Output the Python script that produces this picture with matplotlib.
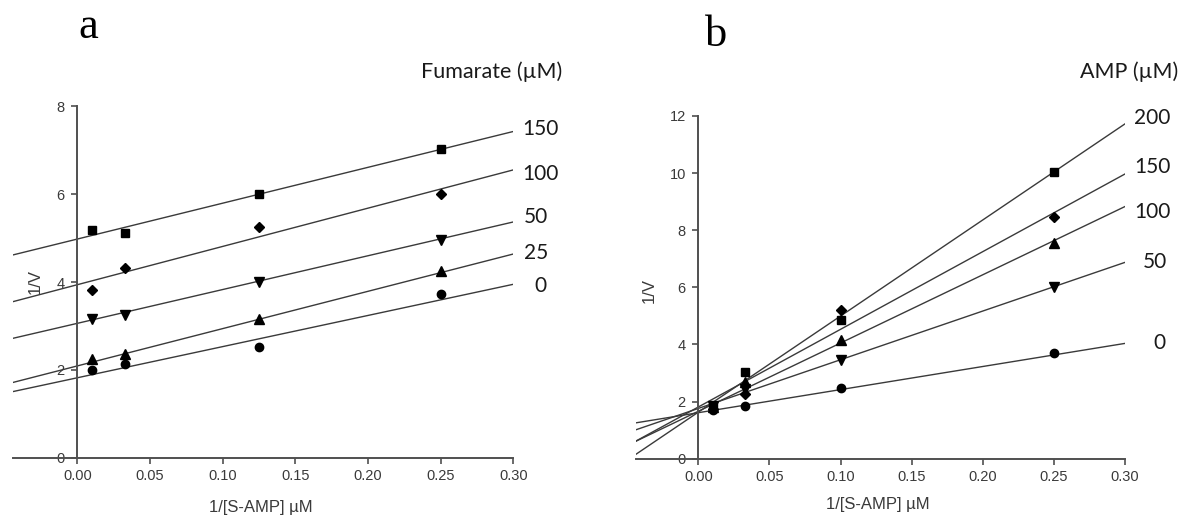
import numpy as np
import matplotlib.pyplot as plt

plt.rcParams['font.family'] = ['Liberation Sans', 'DejaVu Sans']

# x values (1/[S-AMP])
x_fum = [0.01, 0.033, 0.125, 0.25]
x_amp = [0.01, 0.033, 0.10, 0.25]

# panel a: 1/V at each fumarate concentration (uM)
fum_levels = ['0', '25', '50', '100', '150']
fum_0 = [1.99, 2.13, 2.52, 3.72]
fum_25 = [2.24, 2.37, 3.15, 4.25]
fum_50 = [3.15, 3.25, 4.00, 4.95]
fum_100 = [3.83, 4.31, 5.25, 6.00]
fum_150 = [5.18, 5.12, 6.00, 7.04]
# fitted lines (slope, intercept)
fum_slope = [7.1, 8.5, 7.7, 8.72, 8.17]
fum_icpt = [1.82, 2.09, 3.06, 3.94, 4.98]

# panel b: 1/V at each AMP concentration (uM)
amp_levels = ['0', '50', '100', '150', '200']
amp_0 = [1.71, 1.86, 2.48, 3.69]
amp_50 = [1.86, 2.45, 3.44, 6.02]
amp_100 = [1.80, 2.68, 4.14, 7.54]
amp_150 = [1.75, 2.27, 5.21, 8.45]
amp_200 = [1.85, 3.03, 4.84, 10.05]
amp_slope = [8.09, 17.05, 23.9, 27.2, 33.65]
amp_icpt = [1.61, 1.76, 1.66, 1.81, 1.63]

fum_markers = ['o', '^', 'v', 'D', 's']
amp_markers = ['o', 'v', '^', 'D', 's']
msize = {'o': 6, '^': 6.5, 'v': 6.5, 'D': 5.5, 's': 6}
XMIN, XMAX = -0.044, 0.30


def draw_panel(ax, xs, series, markers, slopes, icpts, ymax, ystep):
    xl = np.array([XMIN, XMAX])
    for ys, m, k, b in zip(series, markers, slopes, icpts):
        ax.plot(xl, k * xl + b, color='#3a3a3a', lw=1.0, zorder=2)
        ax.plot(xs, ys, linestyle='none', marker=m, ms=msize[m],
                color='black', zorder=3, clip_on=False)
    ax.set_xlim(XMIN, XMAX)
    ax.set_ylim(0, ymax)
    ax.spines['top'].set_visible(False)
    ax.spines['right'].set_visible(False)
    ax.spines['left'].set_position(('data', 0))
    ax.spines['bottom'].set_position(('data', 0))
    for s in ('left', 'bottom'):
        ax.spines[s].set_color('#505050')
        ax.spines[s].set_linewidth(1.4)
    ax.set_xticks(np.arange(0, 0.301, 0.05))
    ax.set_xticklabels(['%.2f' % t for t in np.arange(0, 0.301, 0.05)])
    ax.set_yticks(np.arange(0, ymax + 0.1, ystep))
    ax.tick_params(axis='both', direction='out', length=4, width=1.2,
                   color='#505050', labelsize=10.5, labelcolor='#3a3a3a')
    ax.tick_params(axis='x', pad=4)
    ax.tick_params(axis='y', pad=5)


fig = plt.figure(figsize=(11.83, 5.22), dpi=100)

ax1 = fig.add_axes([0.01124, 0.1232, 0.4227, 0.6728])
draw_panel(ax1, x_fum, [fum_0, fum_25, fum_50, fum_100, fum_150],
           fum_markers, fum_slope, fum_icpt, 8, 2)
ax1.text(0.495, -0.143, '1/[S-AMP] µM', transform=ax1.transAxes,
         ha='center', va='center', fontsize=12, color='#3a3a3a')
ax1.text(0.044, 0.503, '1/V', transform=ax1.transAxes, rotation=90,
         ha='center', va='center', fontsize=12, color='#3a3a3a')

ax2 = fig.add_axes([0.5374, 0.1213, 0.4136, 0.6565])
draw_panel(ax2, x_amp, [amp_0, amp_50, amp_100, amp_150, amp_200],
           amp_markers, amp_slope, amp_icpt, 12, 2)
ax2.text(0.494, -0.135, '1/[S-AMP] µM', transform=ax2.transAxes,
         ha='center', va='center', fontsize=12, color='#3a3a3a')
ax2.text(0.027, 0.492, '1/V', transform=ax2.transAxes, rotation=90,
         ha='center', va='center', fontsize=12, color='#3a3a3a')

W, H = 1183.0, 522.0
lab_font = dict(family=['Lato', 'DejaVu Sans'], color='#1a1a1a')

# panel letters and series labels (pixel positions -> figure fraction)
fig.text(88 / W, 1 - 27 / H, 'a', family=['Liberation Serif'], fontsize=32,
         ha='center', va='center')
fig.text(716 / W, 1 - 35 / H, 'b', family=['Liberation Serif'], fontsize=32,
         ha='center', va='center')

fig.text(562 / W, 1 - 72 / H, 'Fumarate (µM)', fontsize=15.5, ha='right',
         va='center', **lab_font)
fum_lab_y = [286, 253, 217, 174, 129]
fum_lab_x = [540, 536, 536, 540, 540]
for lab, lx, ly in zip(fum_levels, fum_lab_x, fum_lab_y):
    fig.text(lx / W, 1 - ly / H, lab, fontsize=15, ha='center', va='center',
             **lab_font)

fig.text(1178 / W, 1 - 72 / H, 'AMP (µM)', fontsize=15.5, ha='right',
         va='center', **lab_font)
amp_lab_y = [343, 262, 212, 167, 118]
amp_lab_x = [1159, 1155, 1152, 1152, 1152]
for lab, lx, ly in zip(amp_levels, amp_lab_x, amp_lab_y):
    fig.text(lx / W, 1 - ly / H, lab, fontsize=15, ha='center', va='center',
             **lab_font)

fig.savefig('out.png', dpi=100)
